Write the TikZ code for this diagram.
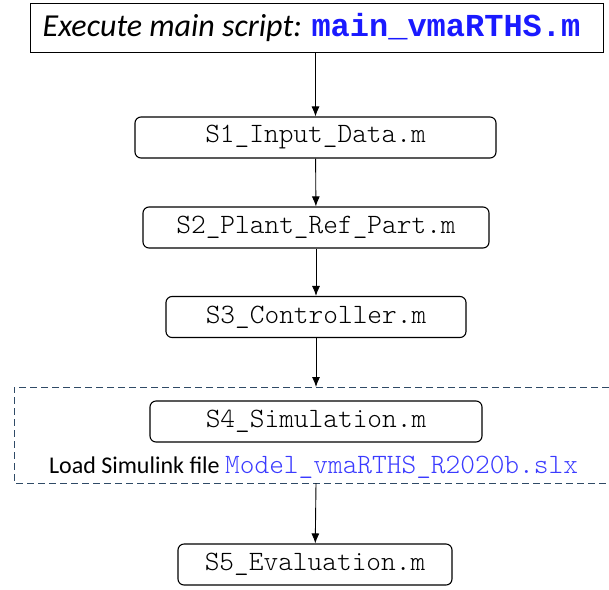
\documentclass[tikz,border=0pt]{standalone}
\usepackage{fontspec}
\setmainfont{Carlito}
\setmonofont{Latin Modern Mono Light}
\newfontfamily\codebold{Liberation Mono}
\usepackage{xcolor}
\usetikzlibrary{arrows.meta}
\usetikzlibrary{positioning}
\definecolor{scriptblue}{HTML}{1A1AFF}
\definecolor{fileblue}{HTML}{3B3BFF}
\definecolor{framegray}{HTML}{2F4A66}
\tikzset{
  stepfile/.style={draw, rounded corners=6pt, line width=1.1pt, inner sep=0pt,
                   minimum height=41pt, font=\fontsize{28}{32}\ttfamily},
  mainbox/.style={draw, line width=0.9pt, inner sep=0pt,
                  minimum width=573pt, minimum height=49pt},
  flow/.style={-{Latex[length=10pt, width=8pt]}, line width=0.9pt}
}
\begin{document}
\begin{tikzpicture}[x=1pt, y=-1pt]
  \useasboundingbox (0,0) rectangle (609,589);
  % main script
  \node[mainbox] (main) at (316.5,27.5)
    {\hspace*{-10pt}\fontsize{32}{36}\selectfont\itshape Execute main script:
     {\upshape\codebold\bfseries\color{scriptblue}main\_vmaRTHS.m}};
  % steps
  \node[stepfile, minimum width=361pt] (s1) at (315.5,137.5) {S1\_Input\_Data.m};
  \node[stepfile, minimum width=346pt] (s2) at (316,227.5) {S2\_Plant\_Ref\_Part.m};
  \node[stepfile, minimum width=300pt] (s3) at (316,317) {S3\_Controller.m};
  \node[stepfile, minimum width=332pt] (s4) at (316,421.5) {S4\_Simulation.m};
  \node[font=\fontsize{24}{28}\selectfont, inner sep=0pt] (slx) at (313.5,467)
    {Load Simulink file {\fontsize{28}{32}\ttfamily\color{fileblue}Model\_vmaRTHS\_R2020b.slx}};
  \node[stepfile, minimum width=274pt] (s5) at (315,564.5) {S5\_Evaluation.m};
  % simulink frame
  \coordinate (grptop) at (316,387);
  \coordinate (grpbot) at (316,483);
  \draw[framegray, line width=0.9pt, dash pattern=on 7pt off 4pt]
    (609,387) -- (14,387) -- (14,483) -- (609,483);
  \draw[flow] (main.south -| s1.north) -- (s1);
  \draw[flow] (s1) -- (s2);
  \draw[flow] (s2) -- (s3);
  \draw[flow] (s3) -- (grptop);
  \draw[flow] (grpbot) -- (s5);
\end{tikzpicture}
\end{document}
